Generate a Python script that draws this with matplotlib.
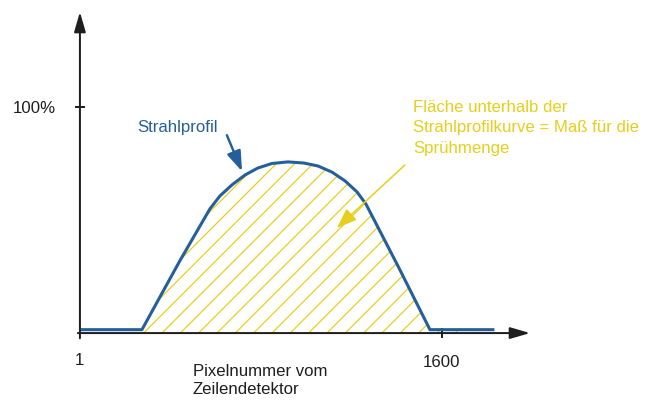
import numpy as np
import matplotlib.pyplot as plt

plt.rcParams['font.family'] = ['Liberation Sans', 'DejaVu Sans']
plt.rcParams['hatch.linewidth'] = 0.8

# Strahlprofil: Pixelnummer (1..1600) gegen Intensität in %
prof_x = [10, 275, 354, 442, 531, 575, 619, 672, 730, 787, 849, 920, 990,
          1052, 1114, 1172, 1225, 1264, 1406, 1547, 1825]
prof_y = [1.5, 1.5, 15.9, 31.9, 47.3, 54.9, 60.6, 65.5, 69.9, 73.0, 75.0, 75.7,
          75.2, 73.9, 71.2, 67.3, 62.4, 57.1, 29.6, 1.5, 1.5]

x_ticks = [1, 1600]
x_ticklabels = ['1', '1600']
y_ticks = [100]
y_ticklabels = ['100%']

blue = '#245f9c'
yellow = '#e6cf1c'
ink = '#1e1e1e'

fig = plt.figure(figsize=(6, 400 / 110), dpi=110)
ax = fig.add_axes([0, 0, 1, 1])
ax.set_xlim(-352, 2563)
ax.set_ylim(-29.6, 147.3)

x = np.array(prof_x)
y = np.array(prof_y)

# schraffierte Fläche unter der Kurve
ax.fill_between(x, 0, y, where=(x >= 275) & (x <= 1547), interpolate=True,
                facecolor='none', edgecolor=yellow, hatch='//', linewidth=0, zorder=1)
ax.plot(x, y, color=blue, lw=2.0, solid_joinstyle='round', zorder=3)

# Achsen mit Pfeilen
for s in ['top', 'right', 'left', 'bottom']:
    ax.spines[s].set_visible(False)
ax.spines['left'].set_position(('data', 1))
ax.spines['bottom'].set_position(('data', 0))
head = '-|>,head_length=0.55,head_width=0.16'
ax.annotate('', xy=(1, 142), xytext=(1, -2.3),
            arrowprops=dict(arrowstyle=head, color=ink, lw=1.3, mutation_scale=20,
                            shrinkA=0, shrinkB=0), zorder=4)
ax.annotate('', xy=(1989, 0), xytext=(-8, 0),
            arrowprops=dict(arrowstyle=head, color=ink, lw=1.3, mutation_scale=20,
                            shrinkA=0, shrinkB=0), zorder=4)

ax.set_xticks(x_ticks[1:])
ax.set_xticklabels(x_ticklabels[1:])
ax.set_yticks(y_ticks)
ax.set_yticklabels(y_ticklabels)
ax.tick_params(axis='both', direction='inout', length=7, width=1.3, color=ink,
               labelsize=11, labelcolor=ink)
ax.tick_params(axis='x', pad=11)
ax.tick_params(axis='y', pad=12)
ax.text(x_ticks[0], -8.8, x_ticklabels[0], ha='center', va='top', fontsize=11, color=ink)

ax.text(500, -21.0, 'Pixelnummer vom\nZeilendetektor', ha='left', va='center',
        fontsize=11, color=ink, linespacing=1.3)

# Beschriftungen
ax.text(253, 90.7, 'Strahlprofil', ha='left', va='center', fontsize=11, color=blue)
ax.annotate('', xy=(717, 71.5), xytext=(650, 87.5),
            arrowprops=dict(arrowstyle='-|>,head_length=0.8,head_width=0.28',
                            color=blue, lw=1.6, mutation_scale=14, shrinkA=0, shrinkB=0),
            zorder=5)

ax.text(1472, 90.7, 'Fläche unterhalb der\nStrahlprofilkurve = Maß für die\nSprühmenge',
        ha='left', va='center', fontsize=11, color=yellow, linespacing=1.45)
ax.annotate('', xy=(1136, 46.5), xytext=(1436, 74.3),
            arrowprops=dict(arrowstyle='-|>,head_length=0.8,head_width=0.3',
                            color=yellow, lw=1.0, mutation_scale=14, shrinkA=0, shrinkB=0),
            zorder=5)

fig.savefig('out.png', dpi=110)
